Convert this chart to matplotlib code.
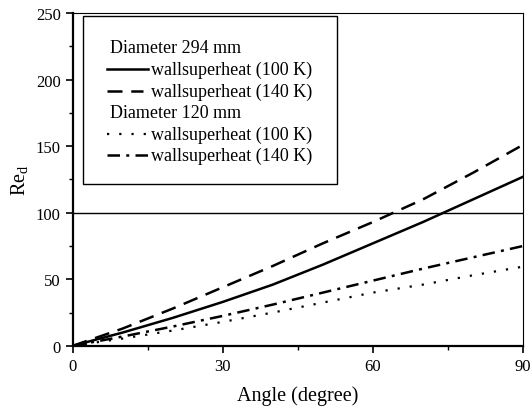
import matplotlib
matplotlib.use("Agg")
import matplotlib.pyplot as plt
from matplotlib.lines import Line2D
from matplotlib.patches import Rectangle
from matplotlib.ticker import MultipleLocator

plt.rcParams['font.family'] = ['Liberation Serif', 'DejaVu Serif']
plt.rcParams['mathtext.fontset'] = 'custom'
plt.rcParams['mathtext.rm'] = 'Liberation Serif'
plt.rcParams['mathtext.it'] = 'Liberation Serif:italic'

# Angle (degree) and Re_d values
angle = [0, 10, 20, 30, 40, 50, 60, 70, 80, 90]
re_294_100 = [0, 10, 21, 33, 46, 61, 77, 93, 110, 127]
re_294_140 = [0, 13, 28, 44, 60, 77, 93, 110, 130, 151]
re_120_100 = [0, 5.5, 11.5, 18, 25, 32.5, 40, 46, 53, 59.5]
re_120_140 = [0, 7, 14.5, 22.5, 31, 40, 49, 58, 66.5, 75]

series = [
    ("wallsuperheat (100 K)", re_294_100, dict(linestyle="-", lw=1.8)),
    ("wallsuperheat (140 K)", re_294_140, dict(linestyle=(0, (6, 3.5)), lw=1.8)),
    ("wallsuperheat (100 K)", re_120_100, dict(linestyle=(0, (1, 4.5)), lw=1.6)),
    ("wallsuperheat (140 K)", re_120_140, dict(linestyle=(0, (5, 2.5, 1.2, 2.5)), lw=1.8)),
]
groups = ["Diameter 294 mm", "Diameter 120 mm"]

fig = plt.figure(figsize=(5.3, 4.1), dpi=100)
ax = fig.add_axes([0.137, 0.154, 0.850, 0.812])

for label, vals, style in series:
    ax.plot(angle, vals, color="black", **style)

ax.axhline(100, color="black", lw=1.0)

ax.set_xlim(0, 90)
ax.set_ylim(0, 250)
ax.xaxis.set_major_locator(MultipleLocator(30))
ax.xaxis.set_minor_locator(MultipleLocator(15))
ax.yaxis.set_major_locator(MultipleLocator(50))
ax.yaxis.set_minor_locator(MultipleLocator(25))
ax.tick_params(which="major", direction="out", length=5, width=1.2, labelsize=12)
ax.tick_params(which="minor", direction="out", length=3, width=1.0)

for side in ["left", "bottom"]:
    ax.spines[side].set_linewidth(1.6)
for side in ["top", "right"]:
    ax.spines[side].set_linewidth(0.8)

ax.set_xlabel("Angle (degree)", fontsize=14.5, labelpad=8)
ax.set_ylabel(r"Re$_\mathrm{d}$", fontsize=14.5, labelpad=4)

# hand-built legend box (headers aligned with the line samples)
box = Rectangle((0.023, 0.486), 0.563, 0.505, transform=ax.transAxes,
                fill=False, edgecolor="black", lw=1.0, zorder=5)
ax.add_patch(box)
rows = [groups[0], 0, 1, groups[1], 2, 3]
y0, dy = 0.895, 0.0646
for i, row in enumerate(rows):
    y = y0 - i * dy
    if isinstance(row, str):
        ax.text(0.083, y, row, transform=ax.transAxes, fontsize=13, va="center")
    else:
        label, _, style = series[row]
        x_end = 0.156 if row == 1 else 0.167
        ax.add_line(Line2D([0.076, x_end], [y, y], transform=ax.transAxes,
                           color="black", **style))
        ax.text(0.174, y, label, transform=ax.transAxes, fontsize=13, va="center")

fig.savefig("out.png", dpi=100)
